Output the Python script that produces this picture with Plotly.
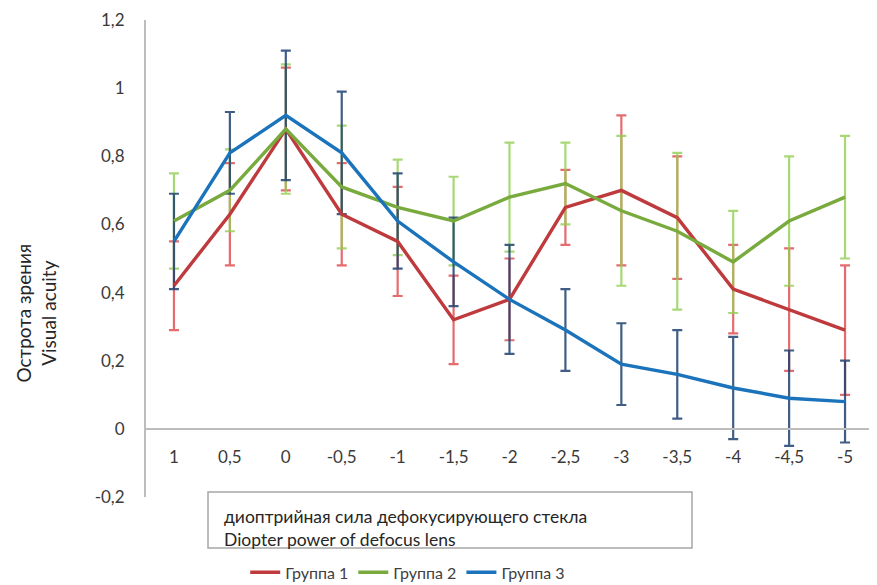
import plotly.graph_objects as go

categories = ["1", "0,5", "0", "-0,5", "-1", "-1,5", "-2", "-2,5", "-3", "-3,5", "-4", "-4,5", "-5"]

group1 = [0.42, 0.63, 0.88, 0.63, 0.55, 0.32, 0.38, 0.65, 0.70, 0.62, 0.41, 0.35, 0.29]
group1_err = [0.13, 0.15, 0.18, 0.15, 0.16, 0.13, 0.12, 0.11, 0.22, 0.18, 0.13, 0.18, 0.19]

group2 = [0.61, 0.70, 0.88, 0.71, 0.65, 0.61, 0.68, 0.72, 0.64, 0.58, 0.49, 0.61, 0.68]
group2_err = [0.14, 0.12, 0.19, 0.18, 0.14, 0.13, 0.16, 0.12, 0.22, 0.23, 0.15, 0.19, 0.18]

group3 = [0.55, 0.81, 0.92, 0.81, 0.61, 0.49, 0.38, 0.29, 0.19, 0.16, 0.12, 0.09, 0.08]
group3_err = [0.14, 0.12, 0.19, 0.18, 0.14, 0.13, 0.16, 0.12, 0.12, 0.13, 0.15, 0.14, 0.12]

series_names = ["Группа 1", "Группа 2", "Группа 3"]
y_tick_vals = [-0.2, 0, 0.2, 0.4, 0.6, 0.8, 1.0, 1.2]
y_tick_text = ["-0,2", "0", "0,2", "0,4", "0,6", "0,8", "1", "1,2"]

line_colors = ["#be3a3c", "#79aa3d", "#1a73bb"]
err_colors = ["rgba(222,70,74,0.8)", "rgba(146,206,84,0.8)", "rgba(30,66,112,0.85)"]

FONT = "Lato, 'Open Sans', sans-serif"
data = [(group1, group1_err), (group2, group2_err), (group3, group3_err)]

fig = go.Figure()
# error bars first (beneath all lines)
for (vals, errs), ec in zip(data, err_colors):
    fig.add_trace(go.Scatter(
        x=categories, y=vals, mode="markers",
        marker=dict(size=1, opacity=0),
        error_y=dict(type="data", array=errs, visible=True, color=ec, thickness=2.2, width=5),
        showlegend=False, hoverinfo="skip",
    ))
for (vals, errs), name, lc in zip(data, series_names, line_colors):
    fig.add_trace(go.Scatter(
        x=categories, y=vals, mode="lines", name=name,
        line=dict(color=lc, width=3.4),
    ))

y_min, y_max = -0.2, 1.2
zero_pos = (0 - y_min) / (y_max - y_min)

# page body adds an 8px margin, so the figure is 8px smaller than the window
fig.update_layout(
    width=869, height=577,
    margin=dict(l=138, r=4, t=12, b=88, autoexpand=False),
    paper_bgcolor="white", plot_bgcolor="white",
    font=dict(family=FONT, size=17, color="#404040"),
    xaxis=dict(
        type="category", range=[-0.5, len(categories) - 0.5],
        anchor="free", position=zero_pos, automargin=False,
        showline=True, linecolor="#bdbdbd", linewidth=2,
        showgrid=False, zeroline=False,
        ticks="outside", ticklen=13, tickcolor="rgba(0,0,0,0)",
        tickfont=dict(size=17, color="#3a3a3a"),
    ),
    yaxis=dict(
        range=[y_min, y_max], automargin=False,
        tickvals=y_tick_vals, ticktext=y_tick_text,
        showline=True, linecolor="#bdbdbd", linewidth=2,
        showgrid=False, zeroline=False,
        ticks="outside", ticklen=16, tickcolor="rgba(0,0,0,0)",
        tickfont=dict(size=17, color="#3a3a3a"),
    ),
    legend=dict(
        orientation="h", x=0.36, xanchor="center", y=-0.158, yanchor="middle",
        font=dict(size=16, color="#404040"), itemwidth=30, bgcolor="rgba(0,0,0,0)",
    ),
    showlegend=True,
)

# x-axis title box
fig.add_shape(type="rect", xref="paper", yref="paper",
              x0=0.0853, x1=0.751, y0=-0.107, y1=0.0105,
              line=dict(color="#a6a6a6", width=1.5), fillcolor="white")
fig.add_annotation(xref="paper", yref="paper", x=0.104, y=-0.065,
                   xanchor="left", yanchor="middle", align="left", showarrow=False,
                   text="диоптрийная сила дефокусирующего стекла<br>Diopter power of defocus lens",
                   font=dict(size=17.5, color="#262626"))
# y-axis title
fig.add_annotation(xref="paper", yref="paper", x=-0.151, y=0.385,
                   xanchor="center", yanchor="middle", showarrow=False, textangle=-90,
                   text="Острота зрения<br>Visual acuity",
                   font=dict(size=19, color="#262626"))

fig.write_html("out.html")
